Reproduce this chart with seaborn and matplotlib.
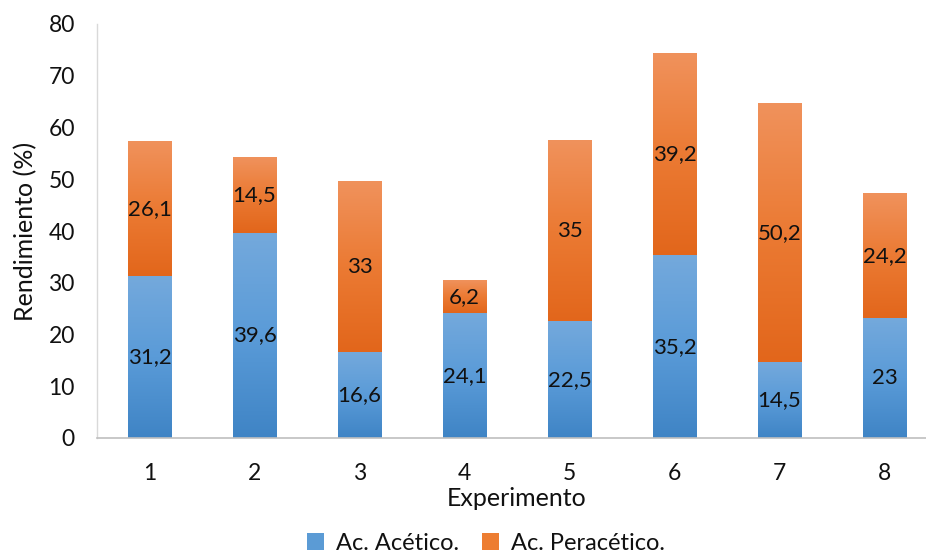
import numpy as np
import pandas as pd
import matplotlib
matplotlib.use("Agg")
import matplotlib.pyplot as plt
import seaborn as sns
from matplotlib.colors import LinearSegmentedColormap
from matplotlib.patches import Patch

experimentos = ["1", "2", "3", "4", "5", "6", "7", "8"]
acetico = [31.2, 39.6, 16.6, 24.1, 22.5, 35.2, 14.5, 23]
peracetico = [26.1, 14.5, 33, 6.2, 35, 39.2, 50.2, 24.2]
etiquetas_acetico = ["31,2", "39,6", "16,6", "24,1", "22,5", "35,2", "14,5", "23"]
etiquetas_peracetico = ["26,1", "14,5", "33", "6,2", "35", "39,2", "50,2", "24,2"]
y_ticks = [0, 10, 20, 30, 40, 50, 60, 70, 80]

sns.set_theme(style="white")
plt.rcParams["font.family"] = ["Lato", "DejaVu Sans"]

df = pd.DataFrame({
    "Experimento": experimentos,
    "acetico": acetico,
    "peracetico": peracetico,
})
df["total"] = df["acetico"] + df["peracetico"]

fig = plt.figure(figsize=(9.26, 5.54), dpi=100)
ax = fig.add_axes([97 / 926, 116 / 554, 840 / 926, 414 / 554])

# stacked bars: total first, the lower series drawn over it
sns.barplot(data=df, x="Experimento", y="total", color="#ED7D31",
            width=0.41, ax=ax, saturation=1)
n = len(experimentos)
sns.barplot(data=df, x="Experimento", y="acetico", color="#5B9BD5",
            width=0.41, ax=ax, saturation=1)

orange_cmap = LinearSegmentedColormap.from_list("o", ["#E2661B", "#EB7A33", "#F0925C"])
blue_cmap = LinearSegmentedColormap.from_list("b", ["#3F84C5", "#5A9BD8", "#74A9DC"])

patches = list(ax.patches)
grad = np.linspace(0, 1, 256).reshape(-1, 1)
for i, p in enumerate(patches):
    cmap = orange_cmap if i < n else blue_cmap
    x0, y0 = p.get_x(), p.get_y()
    w, h = p.get_width(), p.get_height()
    if i < n:
        # orange part spans from the top of the blue segment to the total
        y0 = acetico[i]
        h = df["total"][i] - acetico[i]
    # soft shadow on the right side
    ax.add_patch(plt.Rectangle((x0 + 0.012, y0 - 0.25), w, h, facecolor="#000000",
                               alpha=0.10, edgecolor="none", zorder=1))
    ax.imshow(grad, cmap=cmap, origin="lower", aspect="auto",
              extent=(x0, x0 + w, y0, y0 + h), zorder=2)
    p.set_facecolor("none")
    p.set_edgecolor("none")

for i in range(n):
    ax.text(i, acetico[i] / 2, etiquetas_acetico[i], ha="center", va="center",
            fontsize=16, color="#111111", zorder=5)
    ax.text(i, acetico[i] + peracetico[i] / 2, etiquetas_peracetico[i], ha="center",
            va="center", fontsize=16, color="#111111", zorder=5)

ax.set_xlim(-0.5, n - 0.5)
ax.set_ylim(0, 80)
ax.set_yticks(y_ticks)
ax.set_yticklabels([str(t) for t in y_ticks], fontsize=16.5, color="#111111")
ax.tick_params(axis="x", labelsize=16.5, colors="#111111", length=0, pad=18)
ax.tick_params(axis="y", length=0, pad=16)
ax.set_xlabel("Experimento", fontsize=18, color="#111111", labelpad=2)
ax.set_ylabel("Rendimiento (%)", fontsize=18, color="#111111", labelpad=8)

for s in ["top", "right"]:
    ax.spines[s].set_visible(False)
ax.spines["left"].set_color("#D9D9D9")
ax.spines["bottom"].set_color("#BFBFBF")
ax.spines["left"].set_linewidth(1.0)
ax.spines["bottom"].set_linewidth(1.2)

handles = [Patch(facecolor="#5B9BD5", edgecolor="none", label="Ac. Acético."),
           Patch(facecolor="#ED7D31", edgecolor="none", label="Ac. Peracético.")]
fig.legend(handles=handles, loc="center", bbox_to_anchor=(486 / 926, 11 / 554),
           ncol=2, frameon=False, fontsize=17, handlelength=0.7, handleheight=0.7,
           handletextpad=0.5, columnspacing=1.0, labelcolor="#111111")

fig.savefig("out.png", dpi=100)
